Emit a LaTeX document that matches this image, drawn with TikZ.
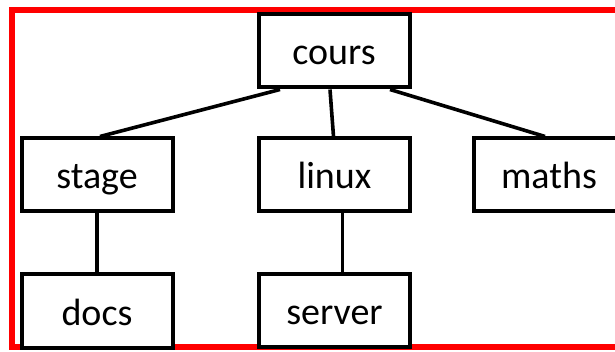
\documentclass[tikz,border=0pt]{standalone}
\usepackage{fontspec}
\newfontfamily\lab{Carlito}
\usetikzlibrary{calc}
\tikzset{
  treebox/.style={draw=black, line width=4pt, fill=white, minimum width=151pt, minimum height=73pt, inner sep=0pt, text height=31pt, text depth=3pt, font=\lab\fontsize{38}{40}\selectfont},
  link/.style={draw=black, line width=3.6pt},
  frame/.style={draw={rgb,255:red,255;green,0;blue,0}, line width=6.5pt}
}
\begin{document}
\begin{tikzpicture}[x=1pt,y=-1pt]
\useasboundingbox (0,0) rectangle (615,352);
\clip (0,0) rectangle (615,352);
\draw[frame] (12,10) rectangle (640,347);
\node[treebox] (cours) at (334,51) {cours};
\node[treebox] (stage) at (97,175) {stage};
\node[treebox] (linux) at (334.5,175) {linux};
\node[treebox] (maths) at (549,175) {maths};
\node[treebox] (docs) at (97,311) {docs};
\node[treebox] (server) at (334.5,310.5) {server};
\draw[link] ($(cours.south)+(-54,0)$) -- ($(stage.north)+(3,0)$);
\draw[link] ($(cours.south)+(-4,0)$) -- ($(linux.north)+(-1,0)$);
\draw[link] ($(cours.south)+(56,0)$) -- ($(maths.north)+(-4,0)$);
\draw[link] (stage.south) -- (docs.north);
\draw[link] ($(linux.south)+(8,0)$) -- ($(server.north)+(8,0)$);
\end{tikzpicture}
\end{document}
